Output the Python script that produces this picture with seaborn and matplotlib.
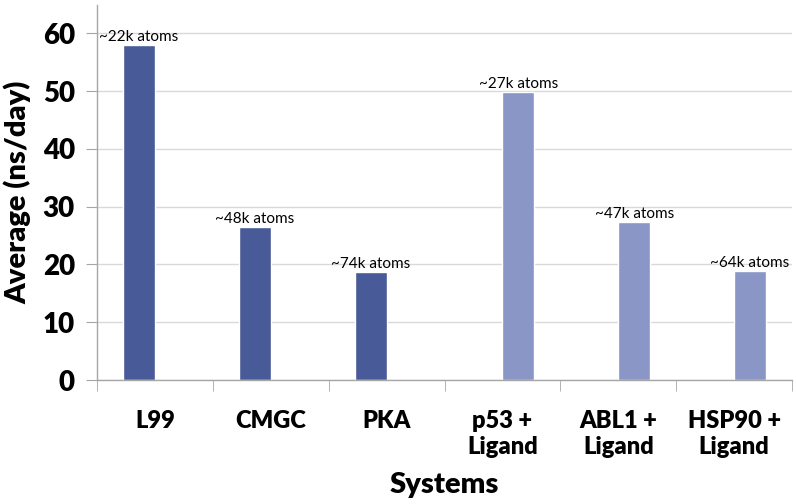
import numpy as np
import pandas as pd
import matplotlib.pyplot as plt
import seaborn as sns

# valeurs
systems = ["L99", "CMGC", "PKA", "p53 +\nLigand", "ABL1 +\nLigand", "HSP90 +\nLigand"]
groups = ["Protein", "Protein", "Protein", "Ligand", "Ligand", "Ligand"]
avg_ns_day = [58.0, 26.5, 18.7, 49.8, 27.3, 18.9]
atom_labels = ["~22k atoms", "~48k atoms", "~74k atoms", "~27k atoms", "~47k atoms", "~64k atoms"]

df = pd.DataFrame({"system": systems, "group": groups, "avg": avg_ns_day})

sns.set_style("white")
plt.rcParams["font.family"] = ["Lato", "DejaVu Sans"]
plt.rcParams["text.color"] = "black"
plt.rcParams["axes.labelcolor"] = "black"
plt.rcParams["xtick.labelcolor"] = "black"
plt.rcParams["ytick.labelcolor"] = "black"

fig, ax = plt.subplots(figsize=(7.96, 5.04), dpi=100)
fig.subplots_adjust(left=0.122, right=0.995, bottom=0.246, top=0.991)

sns.barplot(data=df, x="system", y="avg", hue="group", order=systems,
            hue_order=["Protein", "Ligand"], palette=["#485a97", "#8a96c5"],
            saturation=1, width=0.55, dodge=True, legend=False, ax=ax)

# étiquettes au-dessus des barres
for bar in ax.patches:
    h = bar.get_height()
    if np.isnan(h) or h == 0:
        continue
    if round(h, 1) not in avg_ns_day:
        continue
    idx = avg_ns_day.index(round(h, 1))
    ax.text(bar.get_x() + bar.get_width() / 2, h + 0.2, atom_labels[idx],
            ha="center", va="bottom", fontsize=11, color="black")

ax.set_ylim(0, 65)
ax.set_yticks(range(0, 61, 10))
ax.set_xlim(-0.5, len(systems) - 0.5)
ax.yaxis.grid(True, color="#d9d9d9", linewidth=1)
ax.set_axisbelow(True)

for s in ["top", "right"]:
    ax.spines[s].set_visible(False)
for s in ["left", "bottom"]:
    ax.spines[s].set_color("#a6a6a6")
    ax.spines[s].set_linewidth(1)

ax.tick_params(axis="y", left=True, length=8, color="#a6a6a6", labelsize=20, pad=8)
ax.tick_params(axis="x", bottom=False, labelsize=17, pad=18)
ax.set_xticks(np.arange(-0.5, len(systems), 1), minor=True)
ax.tick_params(axis="x", which="minor", bottom=True, length=8, color="#a6a6a6")
for lbl in ax.get_xticklabels() + ax.get_yticklabels():
    lbl.set_fontweight("heavy")
    lbl.set_linespacing(1.25)

ax.set_xlabel("Systems", fontsize=21, fontweight="heavy", labelpad=10)
ax.set_ylabel("Average (ns/day)", fontsize=21, fontweight="heavy", labelpad=8)

plt.savefig("out.png", dpi=100)
plt.close()
